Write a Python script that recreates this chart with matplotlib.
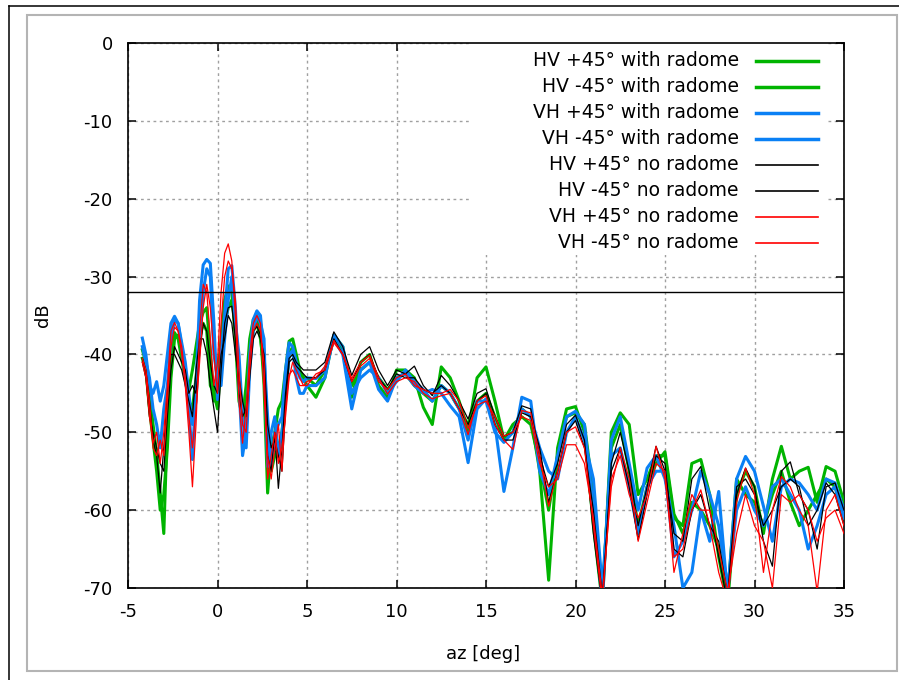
import matplotlib
matplotlib.use("Agg")
import matplotlib.pyplot as plt
from matplotlib.lines import Line2D
from matplotlib.patches import Rectangle

plt.rcParams['font.family'] = ['DejaVu Sans']
plt.rcParams['axes.unicode_minus'] = False

# azimuth samples [deg]
az = [-4.2, -4.0, -3.8, -3.6, -3.4, -3.2, -3.0, -2.8, -2.6, -2.4,
      -2.2, -2.0, -1.8, -1.6, -1.4, -1.2, -1.0, -0.8, -0.6, -0.4,
      -0.2, 0.0, 0.2, 0.4, 0.6, 0.8, 1.0, 1.2, 1.4, 1.6,
      1.8, 2.0, 2.2, 2.4, 2.6, 2.8, 3.0, 3.2, 3.4, 3.6,
      3.8, 4.0, 4.2, 4.4, 4.6, 4.8, 5.0,
      5.5, 6.0, 6.5, 7.0, 7.5, 8.0, 8.5, 9.0, 9.5, 10.0,
      10.5, 11.0, 11.5, 12.0, 12.5, 13.0, 13.5, 14.0, 14.5, 15.0,
      15.5, 16.0, 16.5, 17.0, 17.5, 18.0, 18.5, 19.0, 19.5, 20.0,
      20.5, 21.0, 21.5, 22.0, 22.5, 23.0, 23.5, 24.0, 24.5, 25.0,
      25.5, 26.0, 26.5, 27.0, 27.5, 28.0, 28.5, 29.0, 29.5, 30.0,
      30.5, 31.0, 31.5, 32.0, 32.5, 33.0, 33.5, 34.0, 34.5, 35.0]

# with radome
hv_p45_rad = [-39.4, -41, -44.5, -49, -52.7, -57.8, -63, -49, -40.2, -37.2,
              -38, -40.6, -43.2, -44.5, -42, -39, -36, -34.6, -34, -40,
              -46, -43, -38, -33, -31.2, -32, -38, -46, -48, -44,
              -38, -35.5, -35, -37, -44, -57.8, -52, -50, -47, -46,
              -42, -38.3, -38, -40, -42, -43, -44,
              -45.5, -43, -37.5, -39, -45.5, -41, -40, -44, -45.5, -42,
              -42, -43, -46.8, -49, -41.6, -43, -46, -49.8, -43, -41.6,
              -46, -50.9, -50, -47, -48, -55, -69, -52, -47, -46.7,
              -50, -62, -72, -50, -47.5, -49, -58, -56, -53, -53,
              -61, -62, -54, -53.5, -58, -66, -72, -58, -55, -57,
              -63, -56, -51.8, -56, -55, -54.5, -59, -54.4, -55, -59]
hv_m45_rad = [-40.5, -42, -47, -51, -55, -60, -58, -52, -43, -38,
              -37.5, -40, -42, -46, -47, -43, -38, -36, -37, -44,
              -45, -47, -41, -36, -34, -33, -36, -44, -49, -46,
              -40, -37, -36, -38, -42, -50, -55, -53, -52, -50,
              -45, -40, -39, -41, -42.5, -43, -43,
              -44, -42, -38, -39.5, -44, -42, -41, -43, -44.5, -43,
              -42.5, -44, -45, -46, -44, -45, -47, -49, -46, -45,
              -48, -51, -49, -48, -49, -54, -60, -53, -48, -47.5,
              -49, -58, -71, -52, -49, -55, -62, -57, -54, -52.5,
              -60.5, -63, -59, -60, -62, -65, -71, -56, -58, -59,
              -62, -58, -55, -59, -62, -60, -58, -56, -57, -61]
vh_p45_rad = [-37.9, -40, -44, -45, -43.5, -46, -44, -40, -36, -35.1,
              -36, -39, -43, -47, -53.5, -44, -33, -28.5, -27.8, -28.3,
              -36, -45.8, -40, -35, -29, -28.6, -34, -44, -53, -50,
              -40, -35.5, -34.4, -35, -40, -48, -54.4, -50, -49, -48,
              -42, -38.5, -39, -41, -43, -43.5, -43,
              -43.1, -42, -38, -40, -47, -42, -41, -44.5, -46, -43,
              -42.5, -44, -45, -44.5, -45, -46.6, -48, -53.9, -47, -45.7,
              -49, -57.6, -52, -45.5, -46, -55, -58, -53, -48, -47.3,
              -49, -60, -72, -51, -48, -54, -60, -54.6, -53, -56,
              -62, -70, -68, -60, -64, -57.6, -71, -56, -53.1, -55,
              -59.5, -64, -57, -56, -56.5, -58, -60, -56, -56.5, -60]
vh_m45_rad = [-39, -41, -43, -47, -49, -52, -47, -44, -38, -35.5,
              -36, -38.5, -41, -45, -49, -46, -38, -32, -29, -30,
              -40, -43, -44, -38, -33, -30, -36, -40, -48, -52,
              -42, -37, -35, -36, -38, -54.4, -50, -48, -53, -50,
              -46, -40, -39.5, -43, -45, -45, -44,
              -44, -43, -37.5, -39, -45, -43, -42, -43, -45, -43.5,
              -42, -43.5, -44.5, -46, -44, -45, -47, -51, -46, -46,
              -50, -51.3, -50, -47, -48, -52, -55, -56, -50, -48,
              -51, -56, -70, -53, -52, -57, -63, -57, -55, -55,
              -66, -64, -60, -55, -58, -62, -70, -60, -57, -60,
              -62, -57, -56, -58, -60, -65, -62, -58, -57, -61]

# no radome
hv_p45_no = [-40.5, -42, -46, -51, -53, -57.8, -52, -45, -40, -40,
             -41, -42, -44, -46, -48, -42, -38, -38, -40, -44,
             -47, -50, -42, -36, -34, -33.8, -38, -45, -48, -47,
             -42, -37, -36.4, -37.5, -42, -53, -55, -50, -57.2, -52,
             -45, -40.5, -40, -41, -41.5, -42, -42,
             -42, -41, -37.1, -39, -42.7, -40, -39, -42, -44, -42,
             -42.5, -41.5, -44, -45.3, -42.7, -44, -46, -48.3, -45, -44.4,
             -48, -50.5, -50, -46.6, -47, -53, -57, -54, -49, -47.8,
             -51, -63, -72, -54, -50, -55, -62, -57, -51.8, -55,
             -63, -64, -56, -54.4, -60, -66, -72, -58, -54.6, -57,
             -64, -67.2, -55, -53.8, -58, -60, -65, -57, -56.5, -60]
hv_m45_no = [-41, -43, -48, -50, -52, -54, -55, -48, -42, -39,
             -40, -41, -42, -45, -44, -45, -40, -36, -37, -41,
             -44, -45, -40, -38, -35, -36, -40, -43, -46, -48,
             -43, -38, -37, -38, -40, -49, -52, -51, -53, -55,
             -47, -41, -40.5, -41.5, -42, -42.5, -43,
             -43, -42, -38, -40, -43.5, -41, -40, -43, -44.5, -42.5,
             -43, -43, -44.5, -45, -44, -45, -47, -49, -46, -45,
             -49, -51, -51, -47.5, -48, -52, -59, -55, -50, -48.5,
             -52, -60, -71, -55, -52, -57, -63.8, -58, -53, -54,
             -65, -66, -60, -58, -62, -64, -71, -57, -56, -58,
             -62, -60, -57, -56, -57, -62, -60, -56.5, -58, -62]
vh_p45_no = [-41, -43, -48, -51.4, -50, -54, -50, -44, -37, -35.9,
             -37, -40, -44, -50, -57, -49, -37, -31, -32, -38,
             -44, -41, -32, -27, -25.8, -28, -35, -46, -51.4, -47,
             -40, -36, -35, -36, -45, -53, -56, -52, -49, -55,
             -47, -42.6, -42, -43, -44, -44, -43.5,
             -43, -41.5, -38.2, -40, -43.1, -41, -40.1, -43, -45.1, -43.5,
             -43, -43.5, -45, -45.7, -45.3, -45, -47, -50.3, -46, -45.3,
             -49, -51, -52.2, -47.2, -47.5, -53, -59.5, -55, -50, -49.3,
             -52, -62, -72, -56, -53, -58, -61, -58, -51.8, -56,
             -66, -65, -60, -57.4, -62, -68, -72, -59, -54.6, -58,
             -68, -60, -55.7, -57, -60, -62, -70.5, -60, -58, -62]
vh_m45_no = [-40.5, -42, -46, -52, -53, -51, -53, -46, -39, -36.5,
             -37, -39, -43, -48, -52, -47, -41, -34, -31, -34,
             -40, -45, -36, -30, -28, -29, -33, -42, -49, -50,
             -42, -37, -36, -37, -41, -56, -53, -50, -54, -52,
             -48, -43, -41, -42, -43, -44, -44,
             -42.5, -42, -38.5, -40, -43.5, -41.5, -40.5, -43.5, -44.5, -43,
             -42.5, -44, -44.5, -45, -45, -44.5, -46, -49.5, -46.5, -46,
             -48, -50.5, -50, -48, -48.5, -54, -57, -56, -51.6, -51.6,
             -54, -61, -71, -57, -52, -56, -64, -59, -54, -55,
             -68, -63, -58, -60, -60, -65, -70.5, -63, -58, -62,
             -64, -70, -58, -59, -58, -60, -64, -61, -60, -63]

threshold = -32

green = '#00b400'
blue = '#0a80f5'
series = [
    ("HV +45° with radome", hv_p45_rad, green, 2.2),
    ("HV -45° with radome", hv_m45_rad, green, 2.2),
    ("VH +45° with radome", vh_p45_rad, blue, 2.2),
    ("VH -45° with radome", vh_m45_rad, blue, 2.2),
    ("HV +45° no radome", hv_p45_no, 'black', 0.9),
    ("HV -45° no radome", hv_m45_no, 'black', 0.9),
    ("VH +45° no radome", vh_p45_no, 'red', 0.9),
    ("VH -45° no radome", vh_m45_no, 'red', 0.9),
]

W, H = 899, 680
fig = plt.figure(figsize=(W / 100, H / 100), dpi=100)

# page frame
fig.add_artist(Line2D([9 / W, 1], [1 - 6 / H, 1 - 6 / H], color='black', lw=1.1))
fig.add_artist(Line2D([9 / W, 9 / W], [0, 1 - 6 / H], color='black', lw=1.1))
fig.add_artist(Rectangle((27 / W, 1 - 671 / H), 870 / W, 656 / H, fill=False,
                         edgecolor='#b4b4b4', lw=1.5))

L, R, T, B = 128, 844, 43, 588
ax = fig.add_axes([L / W, 1 - B / H, (R - L) / W, (B - T) / H])

for label, vals, col, lw in series:
    ax.plot(az, vals, color=col, lw=lw, zorder=3)

ax.axhline(threshold, color='black', lw=1.0, zorder=4)

ax.set_xlim(-5, 35)
ax.set_ylim(-70, 0)
ax.set_xticks(range(-5, 36, 5))
ax.set_yticks(range(-70, 1, 10))
ax.grid(True, color='#a0a0a0', lw=1.0, linestyle=(0, (2, 2.5)))
ax.tick_params(direction='in', length=6, width=1.1, top=True, right=True,
               labelsize=13, colors='black')
ax.tick_params(axis='x', pad=11)
ax.tick_params(axis='y', pad=11)
for sp in ax.spines.values():
    sp.set_linewidth(1.2)

ax.set_ylabel("dB", fontsize=13)
ax.set_xlabel("az [deg]", fontsize=13)
ax.yaxis.set_label_coords((52 - L) / (R - L), 0.5)
ax.xaxis.set_label_coords(0.496, (B - 645) / (B - T))


def axf(px, py):
    return (px - L) / (R - L), (B - py) / (B - T)


# key box
x0, y0 = axf(472, 255)
x1, y1 = axf(828, 43)
ax.add_patch(Rectangle((x0, y0), x1 - x0, y1 - y0, transform=ax.transAxes,
                       facecolor='white', edgecolor='none', zorder=2))
for i, (label, vals, col, lw) in enumerate(series):
    py = 61 + 26 * i
    tx, ty = axf(739, py)
    ax.text(tx, ty, label, transform=ax.transAxes, ha='right', va='center',
            fontsize=13.5, zorder=5)
    lx0, _ = axf(756, py)
    lx1, _ = axf(818, py)
    ax.add_line(Line2D([lx0, lx1], [ty, ty], transform=ax.transAxes,
                       color=col, lw=lw + 0.3, zorder=5))

fig.savefig("out.png", dpi=100)
